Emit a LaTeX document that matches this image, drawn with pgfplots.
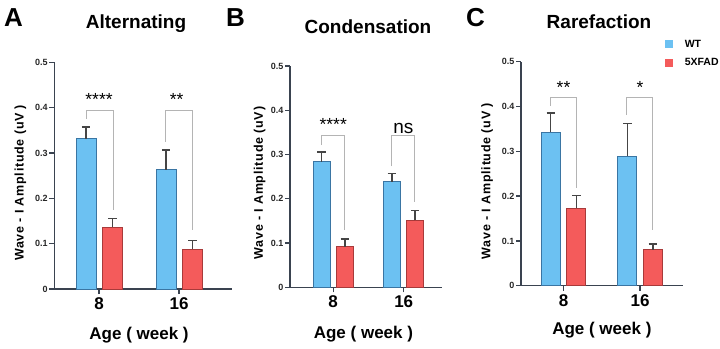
\documentclass[border=0pt]{standalone}
\usepackage{pgfplots}
\pgfplotsset{compat=1.18}
\usepackage{fontspec}
\setmainfont{Liberation Sans}
\newfontfamily\ylfont[LetterSpace=6]{Liberation Sans}
\definecolor{wtfill}{HTML}{6CC1F2}
\definecolor{wtedge}{HTML}{3A75A3}
\definecolor{adfill}{HTML}{F45B5B}
\definecolor{adedge}{HTML}{A83A3A}
\definecolor{axisc}{HTML}{3A4350}
\definecolor{errc}{HTML}{454545}
\definecolor{brc}{HTML}{B4B4B4}
\pgfplotsset{
  panel/.style={
    scale only axis, clip=false,
    axis lines=left, axis line style={-, line width=1.3pt, draw=axisc},
    ymin=0, ymax=0.5,
    ytick={0,0.1,0.2,0.3,0.4,0.5}, yticklabels={0,0.1,0.2,0.3,0.4,0.5},
    xtick={0,1}, xticklabels={8,16},
    tick align=outside, major tick length=5pt,
    tick style={line width=1.3pt, draw=axisc},
    yticklabel style={font=\fontsize{9}{10}\selectfont\bfseries, text=black!85, inner sep=1.5pt},
    xticklabel style={font=\fontsize{17}{19}\selectfont\bfseries, inner sep=3.5pt},
    every axis y label/.style={rotate=90, anchor=center, font=\fontsize{12.5}{14}\ylfont\bfseries},
    every axis x label/.style={anchor=center, font=\fontsize{17}{19}\selectfont\bfseries},
  },
  errs/.style={error bars/y dir=plus, error bars/y explicit,
    error bars/error bar style={line width=1.5pt, draw=errc},
    error bars/error mark options={rotate=90, line width=1.5pt, draw=errc, mark size=4.2pt}},
  wt/.style={ybar, bar shift=0pt, fill=wtfill, draw=wtedge, line width=1pt, errs,
    legend image code/.code={\fill[wtfill] (0pt,-3.4pt) rectangle (6.8pt,3.4pt); \path (16.5pt,0pt);}},
  ad/.style={ybar, bar shift=0pt, fill=adfill, draw=adedge, line width=1pt, errs,
    legend image code/.code={\fill[adfill] (0pt,-3.4pt) rectangle (6.8pt,3.4pt); \path (16.5pt,0pt);}},
  br/.style={brc, line width=1pt, forget plot},
}
\begin{document}
\begin{tikzpicture}
\useasboundingbox (0pt,0pt) rectangle (720pt,-348pt);
% Panel letters and titles
\node[anchor=base west, inner sep=0pt, font=\fontsize{26}{30}\selectfont\bfseries] at (4pt,-27pt) {A};
\node[anchor=base west, inner sep=0pt, font=\fontsize{26}{30}\selectfont\bfseries] at (226pt,-27pt) {B};
\node[anchor=base west, inner sep=0pt, font=\fontsize{26}{30}\selectfont\bfseries] at (466pt,-27pt) {C};
\node[anchor=base, inner sep=0pt, font=\fontsize{19}{22}\selectfont\bfseries] at (136pt,-28pt) {Alternating};
\node[anchor=base, inner sep=0pt, font=\fontsize{19}{22}\selectfont\bfseries] at (368pt,-33pt) {Condensation};
\node[anchor=base, inner sep=0pt, font=\fontsize{19}{22}\selectfont\bfseries] at (599pt,-28pt) {Rarefaction};

% ---------------- Panel A
\begin{axis}[panel, at={(54.3pt,-289pt)}, anchor=south west,
  width=177.7pt, height=226.7pt, xmin=-0.559, xmax=1.6625,
  ylabel={Wave - I Amplitude (uV )}, ylabel style={at={(axis description cs:-0.191,0.468)}},
  xlabel={Age ( week )}, xlabel style={at={(axis description cs:0.477,-0.205)}}]
\addplot[wt, bar width=0.25] coordinates {(-0.1625,0.331) +- (0,0.026) (0.8375,0.263) +- (0,0.044)};
\addplot[ad, bar width=0.25] coordinates {(0.167,0.136) +- (0,0.019) (1.167,0.088) +- (0,0.019)};
\addplot[br] coordinates {(-0.1625,0.375) (-0.1625,0.393) (0.179,0.393) (0.179,0.175)};
\addplot[br] coordinates {(0.825,0.325) (0.825,0.393) (1.166,0.393) (1.166,0.13)};
\node[font=\fontsize{17.5}{18}\selectfont] at (axis cs:0.0,0.419) {****};
\node[font=\fontsize{17.5}{18}\selectfont] at (axis cs:0.97,0.419) {**};
\end{axis}

% ---------------- Panel B
\begin{axis}[panel, at={(290pt,-287.3pt)}, anchor=south west,
  width=151.7pt, height=221.3pt, xmin=-0.613, xmax=1.539,
  ylabel={Wave - I Amplitude (uV)}, ylabel style={at={(axis description cs:-0.20,0.471)}},
  xlabel={Age ( week )}, xlabel style={at={(axis description cs:0.484,-0.21)}}]
\addplot[wt, bar width=0.241] coordinates {(-0.166,0.284) +- (0,0.022) (0.831,0.238) +- (0,0.0195)};
\addplot[ad, bar width=0.241] coordinates {(0.166,0.092) +- (0,0.017) (1.163,0.151) +- (0,0.022)};
\addplot[br] coordinates {(-0.166,0.3215) (-0.166,0.342) (0.167,0.342) (0.167,0.1295)};
\addplot[br] coordinates {(0.83,0.273) (0.83,0.342) (1.146,0.342) (1.146,0.1935)};
\node[font=\fontsize{17.5}{18}\selectfont] at (axis cs:0.0,0.368) {****};
\node[font=\fontsize{19}{20}\selectfont] at (axis cs:0.994,0.359) {ns};
\end{axis}

% ---------------- Panel C
\begin{axis}[panel, at={(521pt,-285.7pt)}, anchor=south west,
  width=161.7pt, height=224pt, xmin=-0.555, xmax=1.556,
  ylabel={Wave - I Amplitude (uV )}, ylabel style={at={(axis description cs:-0.21,0.467)}},
  xlabel={Age ( week )}, xlabel style={at={(axis description cs:0.5,-0.20)}},
  legend style={at={(axis description cs:0.891,1.107)}, anchor=north west, draw=none, fill=none,
    font=\fontsize{10.5}{12}\selectfont\bfseries, row sep=6pt, inner sep=0pt},
  legend cell align=left]
\addplot[wt, bar width=0.252] coordinates {(-0.167,0.342) +- (0,0.043) (0.833,0.289) +- (0,0.073)};
\addlegendentry{WT}
\addplot[ad, bar width=0.252] coordinates {(0.167,0.173) +- (0,0.028) (1.167,0.080) +- (0,0.013)};
\addlegendentry{5XFAD}
\addplot[br] coordinates {(-0.167,0.401) (-0.167,0.421) (0.163,0.421) (0.163,0.217)};
\addplot[br] coordinates {(0.825,0.381) (0.825,0.421) (1.165,0.421) (1.165,0.124)};
\node[font=\fontsize{17.5}{18}\selectfont] at (axis cs:0.0,0.443) {**};
\node[font=\fontsize{17.5}{18}\selectfont] at (axis cs:1.0,0.443) {*};
\end{axis}
\end{tikzpicture}
\end{document}
